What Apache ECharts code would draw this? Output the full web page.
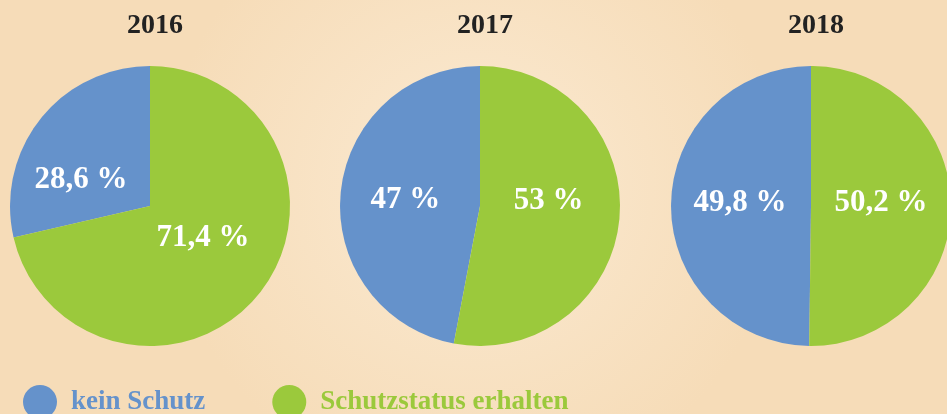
<!DOCTYPE html>
<html>
<head>
<meta charset="utf-8">
<style>
  html, body { margin: 0; padding: 0; }
  #chart { width: 947px; height: 414px; }
</style>
<script src="https://cdn.jsdelivr.net/npm/echarts@6/dist/echarts.min.js"></script>
</head>
<body>
<div id="chart"></div>
<script>
// data
var years = ['2016', '2017', '2018']
var categories = ['kein Schutz', 'Schutzstatus erhalten']
var keinSchutz = [28.6, 47, 49.8]
var schutzstatus = [71.4, 53, 50.2]

var colorData = ['#6592cb', '#9bc93c']
var font = '"Liberation Serif", "DejaVu Serif", serif'
var centersX = [150, 480, 811]
// small label nudges so the percentages sit where the original has them
var labelNudge = [
  [[-12, 19], [-4, -13]],
  [[-2, 1], [-4, -12]],
  [[2, -3], [-3, -3]]
]

function fmt(v) {
  return String(v).replace('.', ',') + ' %'
}

var chart = echarts.init(document.getElementById('chart'))

var titles = []
var series = []
for (var i = 0; i < years.length; i++) {
  titles.push({
    text: years[i],
    left: centersX[i],
    top: 7,
    textAlign: 'center',
    textStyle: {
      fontFamily: font,
      fontWeight: 'bold',
      fontSize: 28,
      color: '#222222'
    }
  })
  series.push({
    type: 'pie',
    name: years[i],
    center: [centersX[i], 206],
    radius: [0, 140],
    startAngle: 90,
    clockwise: false,
    silent: true,
    animation: false,
    label: {
      show: true,
      position: 'inside',
      formatter: function(p) { return fmt(p.value) },
      color: '#ffffff',
      fontFamily: font,
      fontWeight: 'bold',
      fontSize: 31
    },
    labelLayout: (function(idx) {
      return function(p) {
        var d = labelNudge[idx][p.dataIndex]
        return { dx: d[0], dy: d[1] }
      }
    })(i),
    labelLine: { show: false },
    itemStyle: { borderWidth: 0 },
    data: [
      { name: categories[0], value: keinSchutz[i], itemStyle: { color: colorData[0] } },
      { name: categories[1], value: schutzstatus[i], itemStyle: { color: colorData[1] } }
    ]
  })
}

chart.setOption({
  backgroundColor: {
    type: 'radial',
    x: 0.5,
    y: 0.45,
    r: 0.75,
    colorStops: [
      { offset: 0, color: '#fbead2' },
      { offset: 1, color: '#f6dcb8' }
    ]
  },
  title: titles,
  legend: {
    left: 18,
    top: 380,
    icon: 'circle',
    itemWidth: 34,
    itemHeight: 34,
    itemGap: 67,
    selectedMode: false,
    data: [
      { name: categories[0], textStyle: { color: colorData[0] } },
      { name: categories[1], textStyle: { color: colorData[1] } }
    ],
    textStyle: {
      fontFamily: font,
      fontWeight: 'bold',
      fontSize: 27,
      padding: [0, 0, 0, 9]
    }
  },
  series: series
})
</script>
</body>
</html>
